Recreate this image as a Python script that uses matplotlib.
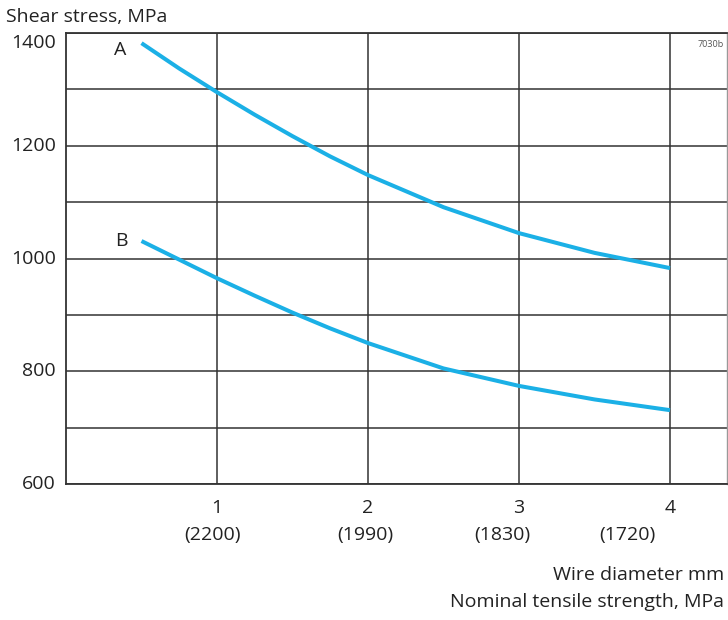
import matplotlib
matplotlib.use("Agg")
import matplotlib.pyplot as plt
import matplotlib.transforms as mtransforms

plt.rcParams['font.family'] = ['Open Sans', 'DejaVu Sans']

# data
diameter = [0.5, 0.75, 1, 1.25, 1.5, 1.75, 2, 2.5, 3, 3.5, 4]
stress_a = [1382, 1337, 1295, 1255, 1217, 1181, 1148, 1091, 1045, 1010, 983]
stress_b = [1031, 998, 965, 934, 904, 876, 850, 805, 774, 750, 731]
x_ticks = [1, 2, 3, 4]
tensile = ["(2200)", "(1990)", "(1830)", "(1720)"]
y_labels = [600, 800, 1000, 1200, 1400]

grid_col = "#333333"
line_col = "#1bb0e6"
text_col = "#222222"
fs = 14

fig = plt.figure(figsize=(7.28, 6.2), dpi=100)
ax = fig.add_axes([66 / 728, 1 - 484 / 620, 661 / 728, 451 / 620])

ax.plot(diameter, stress_a, color=line_col, lw=2.9, solid_capstyle="butt")
ax.plot(diameter, stress_b, color=line_col, lw=2.9, solid_capstyle="butt")

ax.set_xlim(0, 661 / 151)
ax.set_ylim(600, 1400)
ax.set_xticks(x_ticks)
ax.set_yticks(range(600, 1401, 100))
ax.grid(True, color=grid_col, lw=1.1)
ax.set_axisbelow(True)
ax.tick_params(length=0, labelleft=False, labelbottom=False)
for s in ["left", "top", "bottom"]:
    ax.spines[s].set_color(grid_col)
    ax.spines[s].set_linewidth(1.3)
ax.spines["right"].set_color("#999999")
ax.spines["right"].set_linewidth(1.0)

# y labels, the top one sits a bit lower like in the original
ytr = mtransforms.blended_transform_factory(ax.transAxes, ax.transData)
for v in y_labels:
    yy = v - 18 if v == 1400 else v
    ax.text(-0.015, yy, str(v), transform=ytr, ha="right", va="center",
            fontsize=fs, color=text_col)

# x labels: diameter and tensile strength under it
xtr = mtransforms.blended_transform_factory(ax.transData, ax.transAxes)
shift = [-0.03, -0.02, -0.11, -0.28]
for xv, t, dx in zip(x_ticks, tensile, shift):
    ax.text(xv, -0.053, str(xv), transform=xtr, ha="center", va="center",
            fontsize=fs, color=text_col)
    ax.text(xv + dx, -0.114, t, transform=xtr, ha="center", va="center",
            fontsize=fs, color=text_col)

fig.text(6 / 728, 1 - 17 / 620, "Shear stress, MPa", ha="left", va="center",
         fontsize=fs, color=text_col)
fig.text(724 / 728, 1 - 575 / 620, "Wire diameter mm", ha="right", va="center",
         fontsize=fs, color=text_col)
fig.text(724 / 728, 1 - 602 / 620, "Nominal tensile strength, MPa", ha="right",
         va="center", fontsize=fs, color=text_col)

ax.text(0.36, 1370, "A", ha="center", va="center", fontsize=fs, color=text_col)
ax.text(0.37, 1031, "B", ha="center", va="center", fontsize=fs, color=text_col)
ax.text(0.995, 0.985, "7030b", transform=ax.transAxes, ha="right", va="top",
        fontsize=6.5, color="#555555")

fig.savefig("out.png", dpi=100)
